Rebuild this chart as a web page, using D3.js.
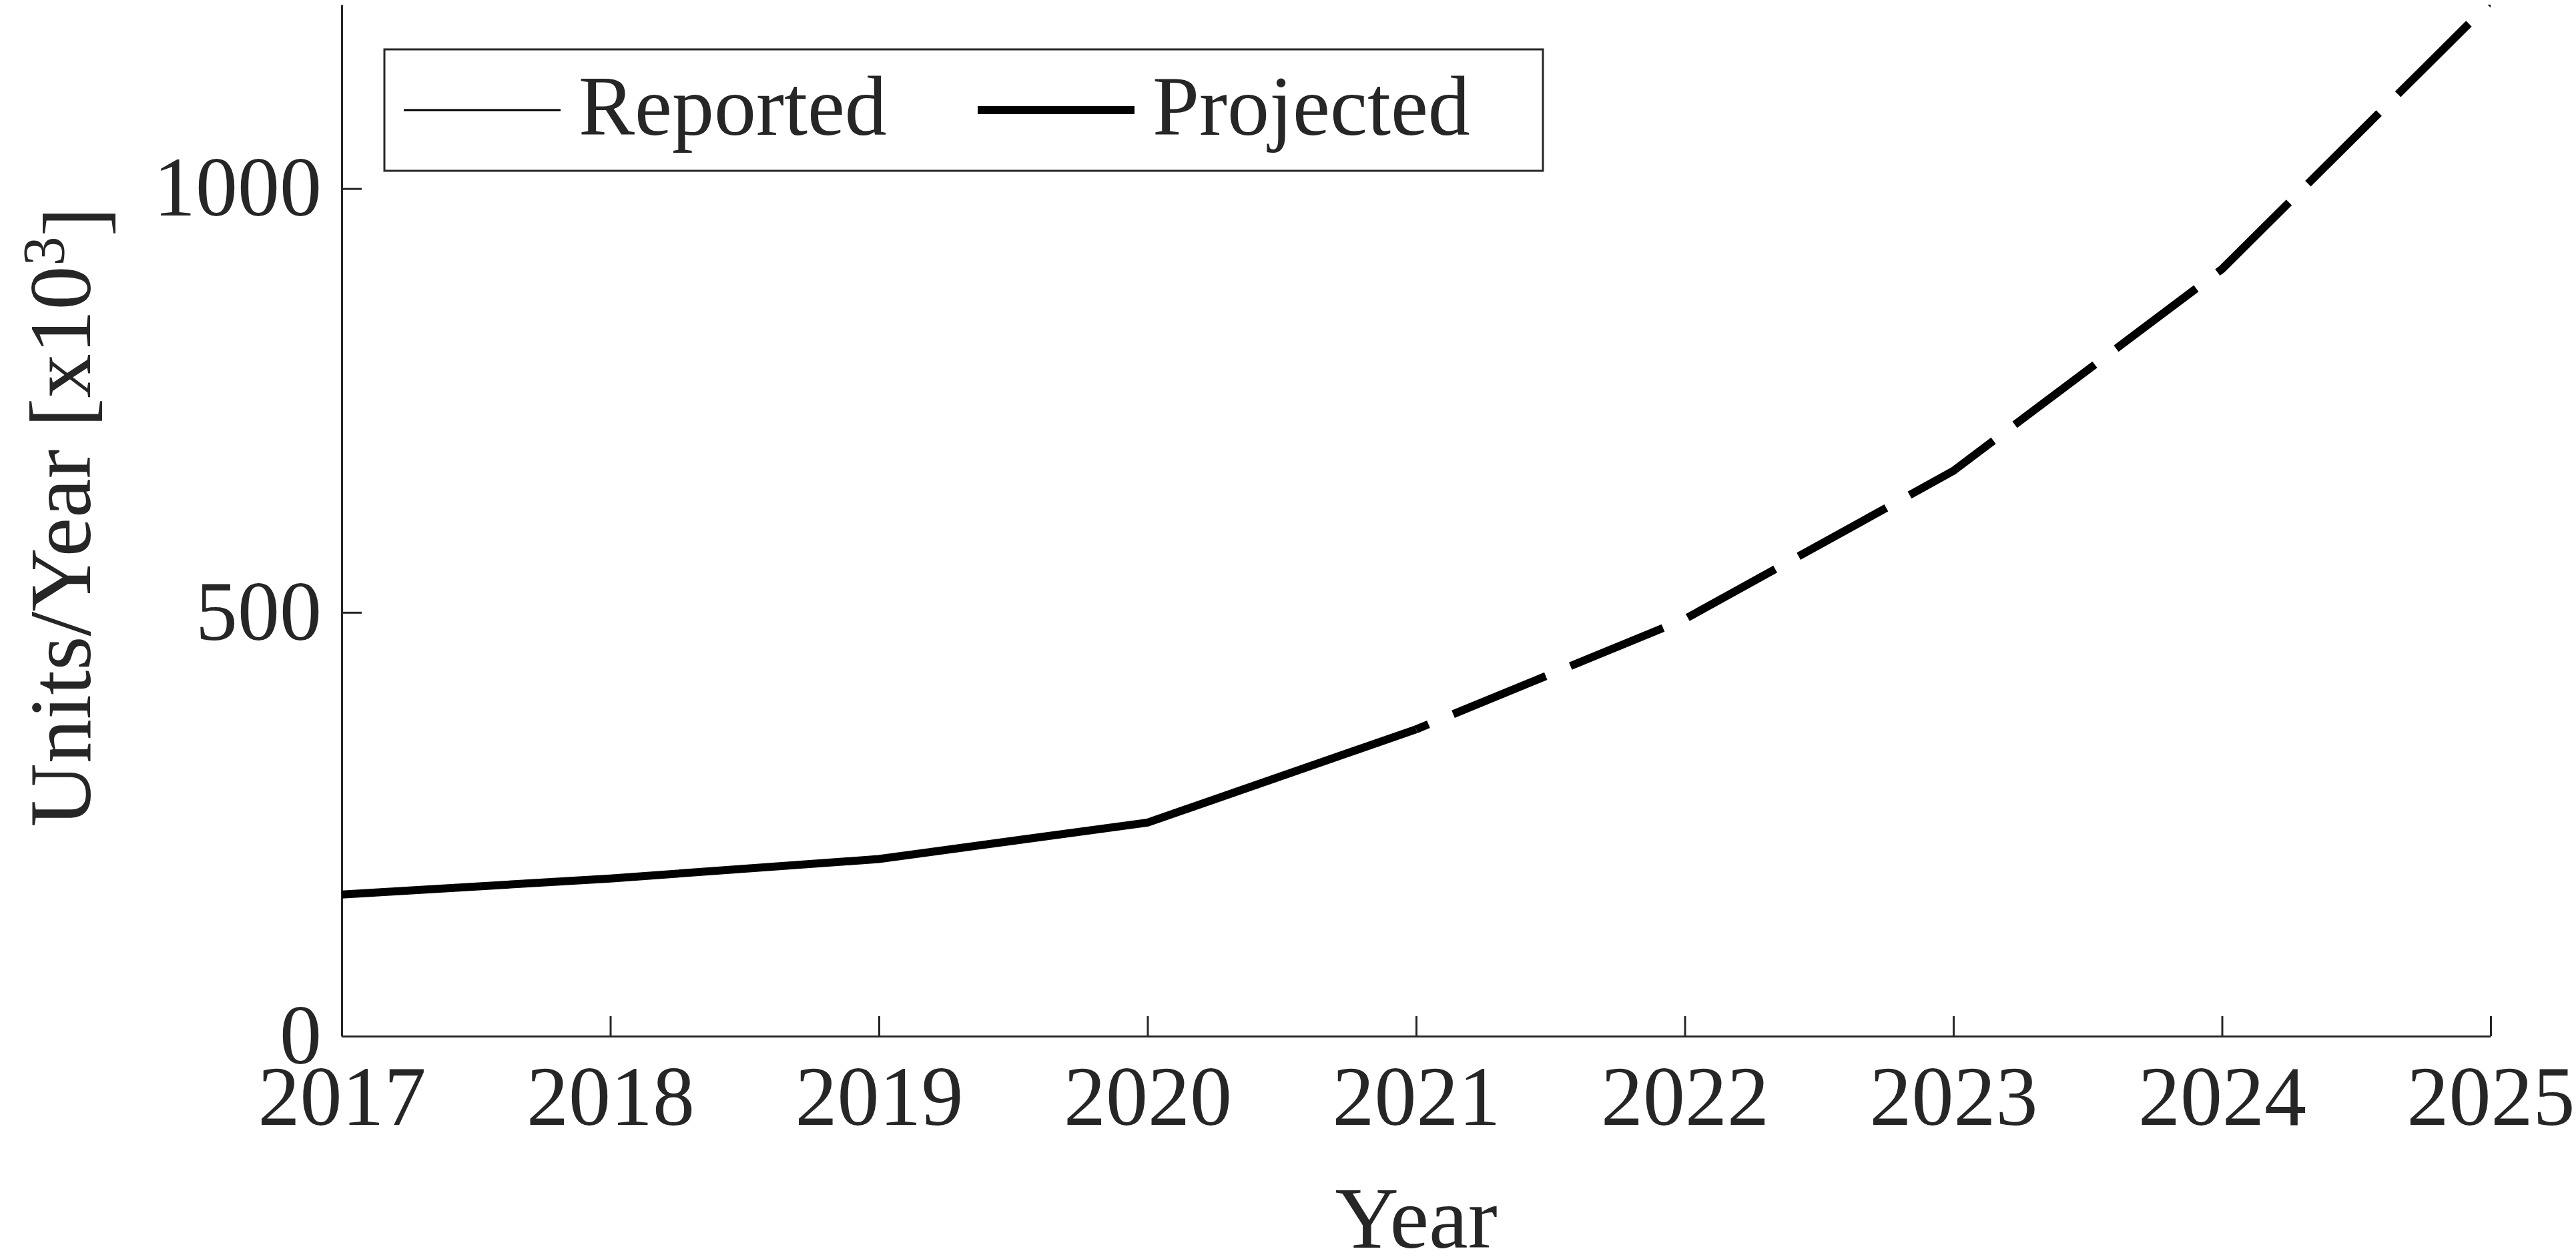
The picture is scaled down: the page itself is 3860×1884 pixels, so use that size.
<!DOCTYPE html>
<html><head><meta charset="utf-8">
<script src="https://cdn.jsdelivr.net/npm/d3@7"></script>
<style>body{margin:0;background:#fff}</style>
</head><body>
<svg id="chart" width="3860" height="1884"></svg>
<script>
var reportedYears=[2017,2018,2019,2020,2021]
var reportedValues=[167,186,209,252,362]
var projectedYears=[2021,2022,2023,2024,2025]
var projectedValues=[362,492,667,905,1220]
var xTicks=[2017,2018,2019,2020,2021,2022,2023,2024,2025]
var yTicks=[0,500,1000]

var svg=d3.select("#chart")
var plotLeft=512, plotRight=3732, plotTop=7, plotBottom=1553
var ink="#262626"
var x=d3.scaleLinear().domain([2017,2025]).range([plotLeft,plotRight])
var y=d3.scaleLinear().domain([0,1217]).range([plotBottom,plotTop])

var clip=svg.append("clipPath").attr("id","clip")
clip.append("rect").attr("x",plotLeft).attr("y",plotTop).attr("width",plotRight-plotLeft).attr("height",plotBottom-plotTop)

var xAxis=svg.append("g")
    .attr("transform","translate(0,"+plotBottom+")")
    .call(d3.axisBottom(x).tickValues(xTicks).tickFormat(d3.format("d")).tickSizeInner(-30).tickSizeOuter(0).tickPadding(45))
var yAxis=svg.append("g")
    .attr("transform","translate("+plotLeft+",0)")
    .call(d3.axisLeft(y).tickValues(yTicks).tickFormat(d3.format("d")).tickSizeInner(-30).tickSizeOuter(0).tickPadding(30))
svg.selectAll(".domain,.tick line").attr("stroke",ink).attr("stroke-width",3)
svg.selectAll(".tick text").attr("fill",ink)
    .style("font-family","'Liberation Serif','DejaVu Serif',serif").style("font-size","126px")
xAxis.selectAll(".tick text").attr("dy","0.7em")

var line=d3.line().x(function(d){return x(d[0])}).y(function(d){return y(d[1])})
svg.append("path")
    .datum(d3.zip(reportedYears,reportedValues))
    .attr("d",line).attr("fill","none").attr("stroke","#000").attr("stroke-width",12)
    .attr("clip-path","url(#clip)")
svg.append("path")
    .datum(d3.zip(projectedYears,projectedValues))
    .attr("d",line).attr("fill","none").attr("stroke","#000").attr("stroke-width",12)
    .attr("stroke-dasharray","150,40").attr("stroke-dashoffset",-60)
    .attr("clip-path","url(#clip)")

svg.append("text").attr("x",(plotLeft+plotRight)/2).attr("y",1870)
    .attr("text-anchor","middle").attr("fill",ink)
    .style("font-family","'Liberation Serif',serif").style("font-size","132px")
    .text("Year")
var yl=svg.append("text").attr("transform","translate(135,775) rotate(-90)")
    .attr("text-anchor","middle").attr("fill",ink)
    .style("font-family","'Liberation Serif',serif").style("font-size","132px")
yl.append("tspan").text("Units/Year [x10")
yl.append("tspan").attr("dy","-0.45em").style("font-size","88px").text("3")
yl.append("tspan").attr("dy","0.45em").text("]")

// legend
var lg=svg.append("g")
lg.append("rect").attr("x",576).attr("y",74).attr("width",1736).attr("height",182)
    .attr("fill","#fff").attr("stroke",ink).attr("stroke-width",3)
var legendItems=[{name:"Reported",w:3,x0:605},{name:"Projected",w:12,x0:1465}]
legendItems.forEach(function(it){
    lg.append("line").attr("x1",it.x0).attr("x2",it.x0+235).attr("y1",165).attr("y2",165)
        .attr("stroke","#000").attr("stroke-width",it.w)
    lg.append("text").attr("x",it.x0+262).attr("y",202).attr("fill",ink)
        .style("font-family","'Liberation Serif',serif").style("font-size","126px")
        .text(it.name)
})
</script>
</body></html>
